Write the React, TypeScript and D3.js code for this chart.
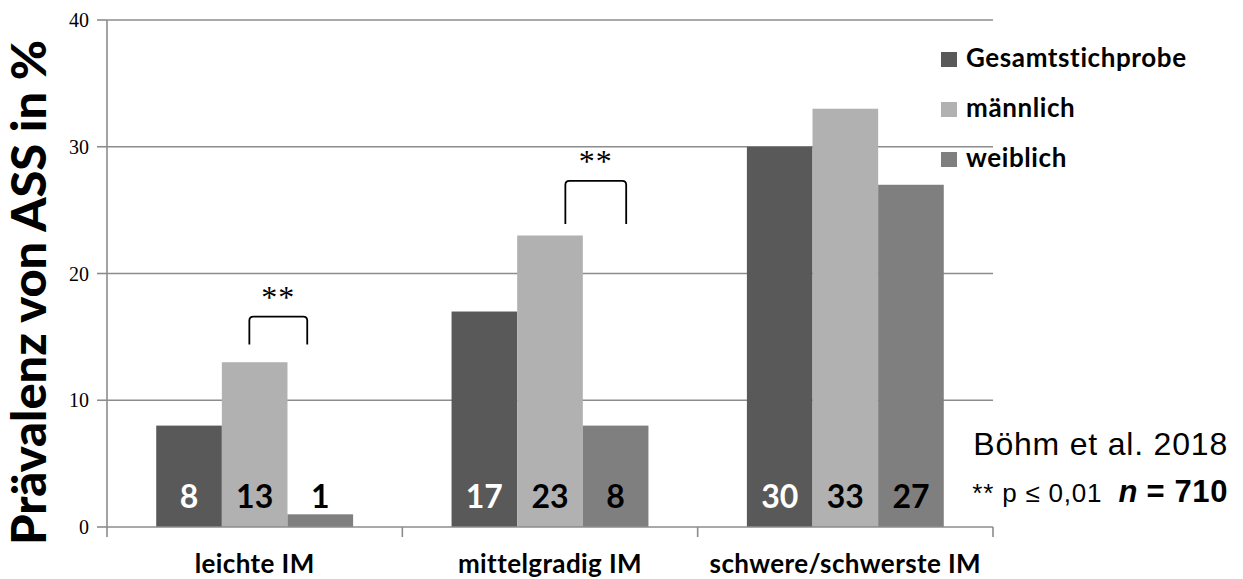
import React from "react";
import * as d3 from "d3";

const categories = ["leichte IM", "mittelgradig IM", "schwere/schwerste IM"];
const seriesNames = ["Gesamtstichprobe", "männlich", "weiblich"];
const gesamt = [8, 17, 30];
const maennlich = [13, 23, 33];
const weiblich = [1, 8, 27];
const yTicks = [0, 10, 20, 30, 40];
const seriesColors = ["#595959", "#b1b1b1", "#7f7f7f"];
const labelColors = ["#ffffff", "#000000", "#000000"];

// significance brackets: category, x start/end as fraction of band, y (data units)
const brackets = [
  { cat: "leichte IM", x0: 0.482, x1: 0.678, top: 16.6, bottom: 14.4, stars: 17.3 },
  { cat: "mittelgradig IM", x0: 0.552, x1: 0.758, top: 27.3, bottom: 23.9, stars: 28.0 },
];

const W = 1243;
const H = 579;
const left = 107;
const right = 993;
const top = 20;
const bottom = 527;

const bold = "Lato, 'Open Sans', sans-serif";

export default function App() {
  const values = [gesamt, maennlich, weiblich];

  const x = d3.scaleBand<string>().domain(categories).range([left, right]).padding(0);
  const inner = d3
    .scaleBand<string>()
    .domain(seriesNames)
    .range([0, x.bandwidth()])
    .paddingInner(0)
    .paddingOuter(0.75);
  const y = d3.scaleLinear().domain([0, 40]).range([bottom, top]);

  const gridColor = "#8c8c8c";
  const catEdges = [...categories.map((c) => x(c)!), right];

  return (
    <svg
      width={W}
      height={H}
      style={{ position: "absolute", left: 0, top: 0, display: "block", background: "#fff" }}
    >
      {/* gridlines */}
      {yTicks.slice(1).map((t) => (
        <line key={t} x1={left} x2={right} y1={y(t)} y2={y(t)} stroke={gridColor} strokeWidth={1.6} />
      ))}

      {/* bars */}
      {categories.map((c, ci) =>
        seriesNames.map((s, si) => (
          <rect
            key={c + s}
            x={x(c)! + inner(s)!}
            y={y(values[si][ci])}
            width={inner.bandwidth()}
            height={y(0) - y(values[si][ci])}
            fill={seriesColors[si]}
          />
        ))
      )}

      {/* axes */}
      <line x1={left} x2={left} y1={top} y2={bottom} stroke={gridColor} strokeWidth={1.6} />
      <line x1={left} x2={right} y1={bottom} y2={bottom} stroke={gridColor} strokeWidth={1.6} />
      {yTicks.map((t) => (
        <g key={t}>
          <line x1={left - 10} x2={left} y1={y(t)} y2={y(t)} stroke={gridColor} strokeWidth={1.6} />
          <text
            x={left - 18}
            y={y(t) + 7}
            textAnchor="end"
            fontFamily="'Liberation Serif', serif"
            fontSize={20}
            fill="#000"
          >
            {t}
          </text>
        </g>
      ))}
      {catEdges.map((e, i) => (
        <line key={i} x1={e} x2={e} y1={bottom} y2={bottom + 10} stroke={gridColor} strokeWidth={1.6} />
      ))}

      {/* category labels */}
      {categories.map((c) => (
        <text
          key={c}
          x={x(c)! + x.bandwidth() / 2}
          y={573}
          textAnchor="middle"
          fontFamily={bold}
          fontWeight={700}
          fontSize={26}
          letterSpacing={0.4}
          fill="#000"
        >
          {c}
        </text>
      ))}

      {/* value labels */}
      {categories.map((c, ci) =>
        seriesNames.map((s, si) => (
          <text
            key={"l" + c + s}
            x={x(c)! + inner(s)! + inner.bandwidth() / 2}
            y={y(1.5)}
            textAnchor="middle"
            fontFamily={bold}
            fontWeight={700}
            fontSize={32}
            fill={labelColors[si]}
          >
            {values[si][ci]}
          </text>
        ))
      )}

      {/* significance brackets */}
      {brackets.map((b) => {
        const bx0 = x(b.cat)! + b.x0 * x.bandwidth();
        const bx1 = x(b.cat)! + b.x1 * x.bandwidth();
        const yt = y(b.top);
        const yb = y(b.bottom);
        const r = 4;
        const p = d3.path();
        p.moveTo(bx0, yb);
        p.lineTo(bx0, yt + r);
        p.quadraticCurveTo(bx0, yt, bx0 + r, yt);
        p.lineTo(bx1 - r, yt);
        p.quadraticCurveTo(bx1, yt, bx1, yt + r);
        p.lineTo(bx1, yb);
        return (
          <g key={b.cat}>
            <path d={p.toString()} fill="none" stroke="#000" strokeWidth={1.8} />
            <text
              x={(bx0 + bx1) / 2}
              y={y(b.stars)}
              textAnchor="middle"
              fontFamily="'Liberation Serif', serif"
              fontSize={32}
              letterSpacing={1}
              fill="#000"
            >
              **
            </text>
          </g>
        );
      })}

      {/* legend */}
      {seriesNames.map((s, i) => (
        <g key={s} transform={`translate(941, ${67 + i * 50})`}>
          <rect x={0} y={-15} width={16} height={15} fill={seriesColors[i]} />
          <text x={25} y={0} fontFamily={bold} fontWeight={700} fontSize={26} letterSpacing={0.6} fill="#000">
            {s}
          </text>
        </g>
      ))}

      {/* notes */}
      <text
        x={1228}
        y={455}
        textAnchor="end"
        fontFamily="'Liberation Sans', Arial, sans-serif"
        fontSize={32}
        letterSpacing={0.8}
        fill="#000"
      >
        Böhm et al. 2018
      </text>
      <text
        x={1228}
        y={502}
        textAnchor="end"
        fontFamily="'Liberation Sans', Arial, sans-serif"
        fill="#000"
        style={{ whiteSpace: "pre" }}
      >
        <tspan fontSize={26} letterSpacing={0.8}>{"** p ≤ 0,01  "}</tspan>
        <tspan fontSize={31} fontWeight={700} fontStyle="italic">n</tspan>
        <tspan fontSize={31} fontWeight={700} letterSpacing={0.6}>{" = 710"}</tspan>
      </text>

      {/* y-axis title */}
      <text
        transform={`translate(46, ${(40 + 545) / 2}) rotate(-90)`}
        textAnchor="middle"
        fontFamily={bold}
        fontWeight={900}
        fontSize={47}
        textLength={505}
        lengthAdjust="spacingAndGlyphs"
        fill="#000"
      >
        Prävalenz von ASS in %
      </text>
    </svg>
  );
}
